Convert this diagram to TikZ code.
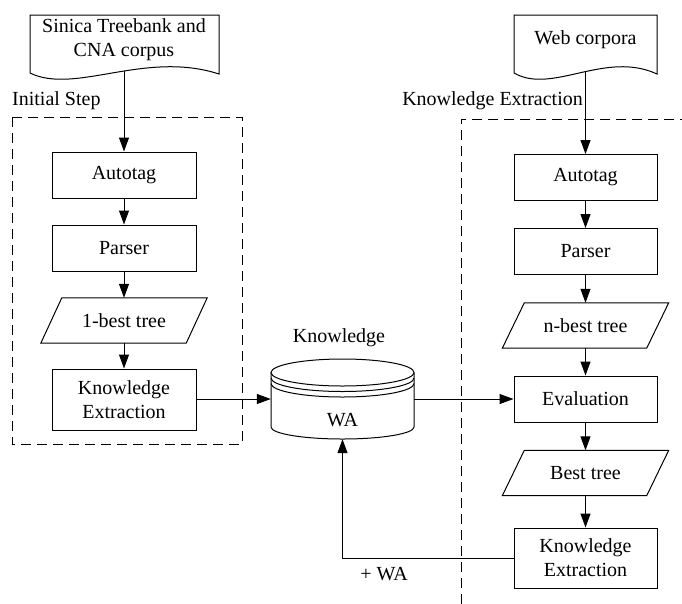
\documentclass[tikz,border=0pt]{standalone}
\usepackage{fontspec}
\setmainfont{Liberation Serif}
\usetikzlibrary{arrows.meta}

\begin{document}
\begin{tikzpicture}[x=1pt,y=-1pt,
  every node/.style={font=\fontsize{20}{24}\selectfont},
  proc/.style={draw, line width=1pt, minimum width=144pt, minimum height=46pt,
               inner sep=0pt, align=center},
  datatext/.style={minimum width=145pt, minimum height=45pt, inner sep=0pt},
  lbl/.style={inner sep=0pt},
  flow/.style={line width=1pt, -{Triangle[length=14pt,width=10pt]}},
  link/.style={line width=1pt},
  group/.style={line width=1pt, dash pattern=on 10pt off 6pt},
  paraslant/.style={line width=1pt},
]
\useasboundingbox (0,0) rectangle (682,603);

% ---- source documents ----
\draw[link] (30,73) -- (30,15) -- (219,15) -- (219,74)
  .. controls (145,50) and (75,95) .. (30,73);
\node[lbl, align=center] (src1) at (124,40) {Sinica Treebank and\\CNA corpus};
\coordinate (src1out) at (124,71);

\draw[link] (514,73) -- (514,15) -- (657,15) -- (657,74)
  .. controls (605,50) and (552,95) .. (514,73);
\node[lbl] (src2) at (585.5,40) {Web corpora};
\coordinate (src2out) at (585.5,71);

% ---- dashed groups ----
\draw[group] (12,117) rectangle (242,444);
\node[lbl, anchor=west] (initlbl) at (12,101) {Initial Step};

\draw[group] (690,119) -- (461,119) -- (461,610);
\node[lbl, anchor=east] (kelbl) at (583,101) {Knowledge Extraction};

% ---- left column ----
\node[proc] (lauto) at (124,175) {Autotag};
\node[proc] (lpars) at (124,248) {Parser};
\node[datatext] (lbest) at (124,320.5) {1-best tree};
\draw[paraslant] ([xshift=10.5pt]lbest.north west) -- ([xshift=10.5pt]lbest.north east)
  -- ([xshift=-10.5pt]lbest.south east) -- ([xshift=-10.5pt]lbest.south west) -- cycle;
\node[proc, minimum height=61pt] (lke) at (124,399.5) {Knowledge\\Extraction};

% ---- right column ----
\node[proc, minimum width=143pt] (rauto) at (585.5,177.5) {Autotag};
\node[proc, minimum width=143pt] (rpars) at (585.5,251.5) {Parser};
\node[datatext, minimum width=144pt] (rnbest) at (585.5,325.5) {n-best tree};
\draw[paraslant] ([xshift=11pt]rnbest.north west) -- ([xshift=11pt]rnbest.north east)
  -- ([xshift=-11pt]rnbest.south east) -- ([xshift=-11pt]rnbest.south west) -- cycle;
\node[proc, minimum width=143pt] (reval) at (585.5,399) {Evaluation};
\node[datatext, minimum width=144pt] (rbest) at (585.5,473) {Best tree};
\draw[paraslant] ([xshift=11pt]rbest.north west) -- ([xshift=11pt]rbest.north east)
  -- ([xshift=-11pt]rbest.south east) -- ([xshift=-11pt]rbest.south west) -- cycle;
\node[proc, minimum width=143pt, minimum height=60pt] (rke) at (585.5,558) {Knowledge\\Extraction};

% ---- knowledge base (stacked cylinder) ----
\node[minimum width=143pt, minimum height=80pt, inner sep=0pt] (kb) at (342.5,399) {};
\draw[link] (342.5,372.5) ellipse [x radius=71.5pt, y radius=13.5pt];
\draw[link] (271,378) arc[start angle=180, end angle=360, x radius=71.5pt, y radius=13.5pt];
\draw[link] (271,383.5) arc[start angle=180, end angle=360, x radius=71.5pt, y radius=13.5pt];
\draw[link] (271,372.5) -- (271,427)
  arc[start angle=180, end angle=360, x radius=71.5pt, y radius=12pt] -- (414,372.5);
\node[lbl] (kbtext) at (342.5,420) {WA};
\node[lbl] (kblbl) at (339,338) {Knowledge};

% ---- flows ----
\draw[flow] (src1out) -- (lauto.north);
\draw[flow] (lauto) -- (lpars);
\draw[flow] (lpars) -- (lbest);
\draw[flow] (lbest) -- (lke);
\draw[flow] (lke.east |- kb.west) -- (kb.west);

\draw[flow] (src2out) -- (rauto.north);
\draw[flow] (rauto) -- (rpars);
\draw[flow] (rpars) -- (rnbest);
\draw[flow] (rnbest) -- (reval);
\draw[flow] (kb.east) -- (reval.west |- kb.east);
\draw[flow] (reval) -- (rbest);
\draw[flow] (rbest) -- (rke);

\draw[flow] (rke.west) -| (kb.south);
\node[lbl] (wafeed) at (384,574) {+ WA};
\end{tikzpicture}
\end{document}
